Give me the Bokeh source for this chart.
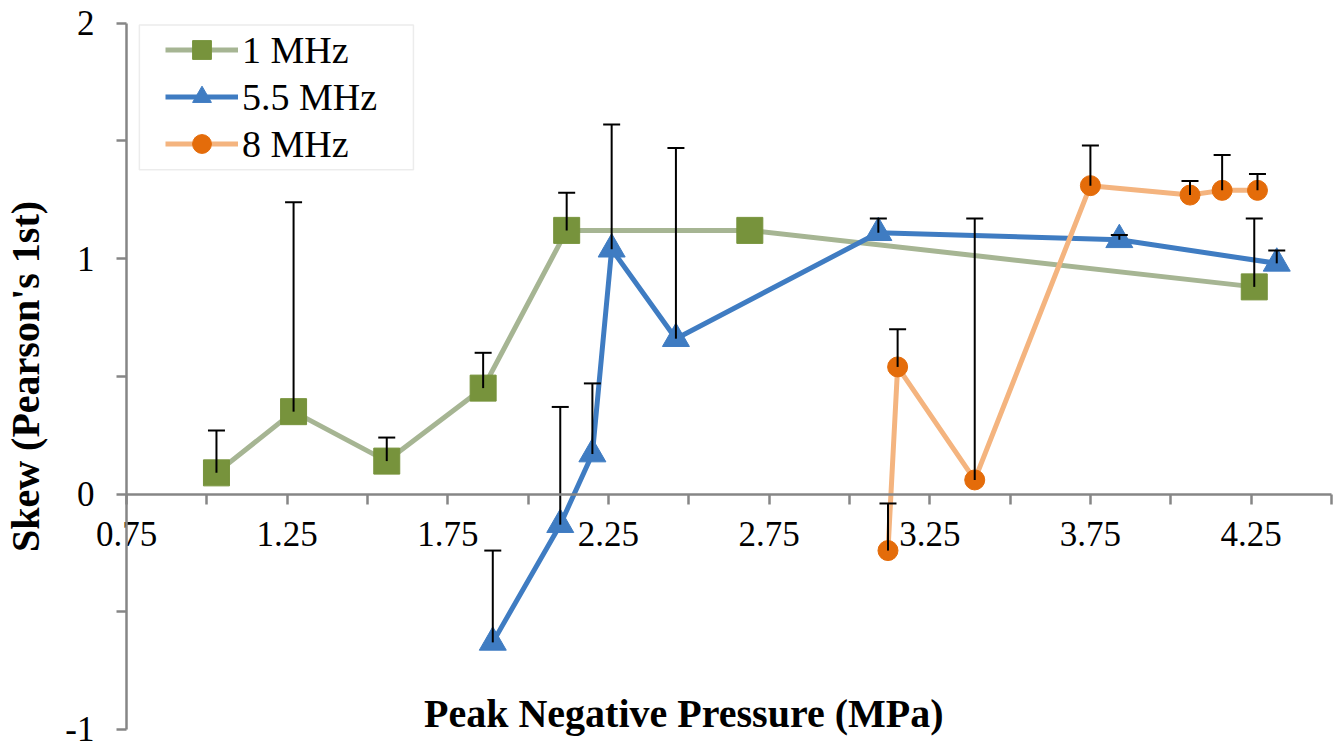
from bokeh.plotting import figure
from bokeh.models import (ColumnDataSource, FixedTicker, Whisker, TeeHead, Legend,
                          LegendItem, Label, BoxAnnotation, Range1d)
from bokeh.embed import file_html
from bokeh.resources import INLINE

# ---- data ----
x_1mhz = [1.03, 1.27, 1.56, 1.86, 2.12, 2.69, 4.26]
y_1mhz = [0.09, 0.35, 0.14, 0.45, 1.12, 1.12, 0.88]
e_1mhz = [0.18, 0.89, 0.10, 0.15, 0.16, 0.0, 0.29]

x_55mhz = [1.89, 2.10, 2.20, 2.26, 2.46, 3.09, 3.84, 4.33]
y_55mhz = [-0.63, -0.13, 0.17, 1.04, 0.66, 1.11, 1.08, 0.98]
e_55mhz = [0.39, 0.50, 0.30, 0.53, 0.81, 0.06, 0.02, 0.055]

x_8mhz = [3.12, 3.15, 3.39, 3.75, 4.06, 4.16, 4.27]
y_8mhz = [-0.24, 0.54, 0.06, 1.31, 1.27, 1.29, 1.29]
e_8mhz = [0.20, 0.16, 1.11, 0.17, 0.06, 0.15, 0.07]

series_names = ["1 MHz", "5.5 MHz", "8 MHz"]
x_major = [0.75, 1.25, 1.75, 2.25, 2.75, 3.25, 3.75, 4.25]
x_minor = [1.0, 1.5, 2.0, 2.5, 3.0, 3.5, 4.0, 4.5]
y_major = [-1, 0, 1, 2]
y_minor = [-0.5, 0.5, 1.5]
x_title = "Peak Negative Pressure  (MPa)"
y_title = "Skew (Pearson's 1st)"

FONT = "Liberation Serif"
AXIS_COLOR = "#868686"

W, H = 1344, 749
XS = 321.3   # px per x unit
YS = 235.43  # px per y unit
X0 = 0.75 - 126 / XS
Y1 = 2 + 22.7 / YS
p = figure(width=W, height=H, output_backend="svg", toolbar_location=None,
           x_range=Range1d(X0, X0 + W / XS),
           y_range=Range1d(Y1 - H / YS, Y1),
           min_border=0, min_border_left=0, min_border_right=0,
           min_border_top=0, min_border_bottom=0)
p.outline_line_color = None
p.grid.visible = False
p.background_fill_color = "white"

# axes crossing at (0.75, 0)
p.xaxis.fixed_location = 0
p.yaxis.fixed_location = 0.75
p.xaxis.bounds = (0.75, 4.5)
p.yaxis.bounds = (-1, 2)
p.xaxis.ticker = FixedTicker(ticks=x_major, minor_ticks=x_minor)
p.yaxis.ticker = FixedTicker(ticks=y_major, minor_ticks=y_minor)
for ax in (p.xaxis, p.yaxis):
    ax.axis_line_color = AXIS_COLOR
    ax.axis_line_width = 2.5
    ax.major_tick_line_color = AXIS_COLOR
    ax.minor_tick_line_color = AXIS_COLOR
    ax.major_tick_line_width = 2.5
    ax.minor_tick_line_width = 2.5
    ax.major_tick_in = 0
    ax.minor_tick_in = 0
    ax.major_tick_out = 10
    ax.minor_tick_out = 10
    ax.major_label_text_font = FONT
    ax.major_label_text_font_size = "35px"
    ax.major_label_text_color = "black"
p.xaxis.major_label_standoff = 18
p.yaxis.major_label_standoff = 22
p.xaxis.major_label_overrides = {v: f"{v:.2f}" for v in x_major}
p.yaxis.major_label_overrides = {-1: "-1"}
p.yaxis.axis_label = y_title
p.yaxis.axis_label_text_font = FONT
p.yaxis.axis_label_text_font_style = "bold"
p.yaxis.axis_label_text_font_size = "40px"
p.yaxis.axis_label_text_color = "black"
p.yaxis.axis_label_standoff = 14

p.add_layout(Label(x=2.5, y=-0.93, text=x_title, text_align="center",
                   text_baseline="middle", text_font=FONT, text_font_style="bold",
                   text_font_size="40px", text_color="black"))

styles = [
    dict(line="#a6b593", marker="#77933c", shape="square", size=26),
    dict(line="#3f7cc2", marker="#3f7cc2", shape="triangle", size=27),
    dict(line="#f4b47f", marker="#e46c0a", shape="circle", size=20),
]
data = [(x_1mhz, y_1mhz, e_1mhz), (x_55mhz, y_55mhz, e_55mhz), (x_8mhz, y_8mhz, e_8mhz)]

items = []
for name, (xs, ys, es), st in zip(series_names, data, styles):
    src = ColumnDataSource(dict(x=xs, y=ys))
    ln = p.line("x", "y", source=src, line_color=st["line"], line_width=5)
    ex = [x for x, e in zip(xs, es) if e > 0]
    ey = [y for y, e in zip(ys, es) if e > 0]
    eu = [y + e for y, e in zip(ys, es) if e > 0]
    esrc = ColumnDataSource(dict(x=ex, lower=ey, upper=eu))
    w = Whisker(source=esrc, base="x", lower="lower", upper="upper", dimension="height",
                line_color="black", line_width=2,
                upper_head=TeeHead(size=17, line_color="black", line_width=2),
                lower_head=None, level="glyph")
    p.add_layout(w)
    sc = p.scatter("x", "y", source=src, marker=st["shape"], size=st["size"],
                   fill_color=st["marker"], line_color=st["marker"], line_width=1)
    items.append(LegendItem(label=name, renderers=[ln, sc]))

box = BoxAnnotation(left=0.79, right=1.643, top=1.992, bottom=1.378,
                    fill_alpha=0, line_color="#bfbfbf", line_width=1.5)
p.add_layout(box)

legend = Legend(items=items, location=(165, H - 167), border_line_color=None,
                background_fill_alpha=0, padding=0, margin=0, spacing=0,
                label_height=47, glyph_height=47, glyph_width=73, label_standoff=4,
                label_text_font=FONT, label_text_font_size="38px",
                label_text_color="black")
p.add_layout(legend)

open("out.html", "w").write(file_html(p, INLINE))
